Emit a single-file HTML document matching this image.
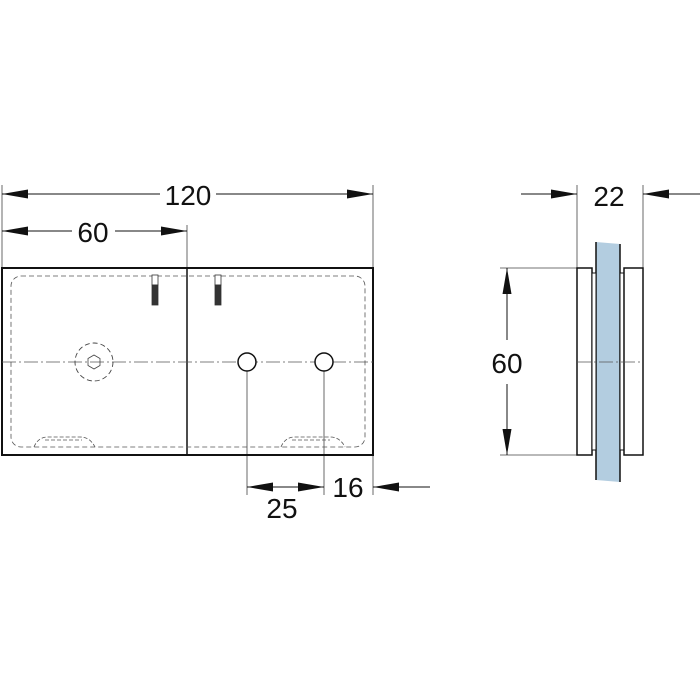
<!DOCTYPE html>
<html><head><style>body{margin:0;background:#fff}svg{display:block}</style></head><body>
<svg width="700" height="700" viewBox="0 0 700 700" xmlns="http://www.w3.org/2000/svg">
<defs>
<marker id="a" viewBox="0 0 26 9" refX="26" refY="4.5" markerWidth="26" markerHeight="9" markerUnits="userSpaceOnUse" orient="auto-start-reverse"><path d="M0,0L26,4.5L0,9z" fill="#111"/></marker>
</defs>
<g stroke="#444" stroke-width="0.8" fill="none">
<line x1="2" y1="185" x2="2" y2="268"/><line x1="373" y1="185" x2="373" y2="268"/><line x1="187" y1="225" x2="187" y2="268"/>
<line x1="247" y1="362" x2="247" y2="495"/><line x1="324" y1="362" x2="324" y2="495"/><line x1="373" y1="455" x2="373" y2="495"/>
<line x1="577" y1="185" x2="577" y2="268"/><line x1="643" y1="185" x2="643" y2="268"/>
<line x1="500" y1="268" x2="577" y2="268"/><line x1="500" y1="455" x2="577" y2="455"/>
</g>
<g stroke="#111" stroke-width="1" fill="none">
<line x1="2" y1="194" x2="160" y2="194" marker-start="url(#a)"/><line x1="216" y1="194" x2="373" y2="194" marker-end="url(#a)"/>
<line x1="2" y1="231" x2="72" y2="231" marker-start="url(#a)"/><line x1="115" y1="231" x2="187" y2="231" marker-end="url(#a)"/>
<line x1="247" y1="487" x2="324" y2="487" marker-start="url(#a)" marker-end="url(#a)"/>
<line x1="430" y1="487" x2="373" y2="487" marker-end="url(#a)"/>
<line x1="521" y1="194" x2="577" y2="194" marker-end="url(#a)"/><line x1="700" y1="194" x2="643" y2="194" marker-end="url(#a)"/>
<line x1="507" y1="268" x2="507" y2="340" marker-start="url(#a)"/><line x1="507" y1="384" x2="507" y2="455" marker-end="url(#a)"/>
</g>
<g font-family="Liberation Sans, sans-serif" font-size="28" fill="#111" text-anchor="middle">
<text x="188" y="205">120</text><text x="93" y="242">60</text><text x="282" y="518">25</text><text x="348" y="497">16</text>
<text x="609" y="206">22</text><text x="507" y="373">60</text>
</g>
<rect x="2" y="268" width="371" height="187" fill="none" stroke="#111" stroke-width="2"/>
<line x1="187" y1="268" x2="187" y2="455" stroke="#111" stroke-width="1.5"/>
<rect x="11" y="276" width="354" height="171" rx="10" fill="none" stroke="#555" stroke-width="0.8" stroke-dasharray="5,3"/>
<line x1="2" y1="362" x2="373" y2="362" stroke="#555" stroke-width="0.8" stroke-dasharray="14,3,2,3"/>
<circle cx="94" cy="362" r="19" fill="none" stroke="#444" stroke-width="0.9" stroke-dasharray="5,3"/>
<polygon points="94,355 100,358.5 100,365.5 94,369 88,365.5 88,358.5" fill="none" stroke="#444" stroke-width="0.8"/>
<circle cx="247" cy="362" r="9" fill="#fff" stroke="#111" stroke-width="1.5"/>
<circle cx="324" cy="362" r="9" fill="#fff" stroke="#111" stroke-width="1.5"/>
<g stroke="#333" stroke-width="0.8">
<rect x="152" y="275" width="6" height="10" fill="#fff"/><rect x="152" y="285" width="6" height="20" fill="#333"/>
<rect x="215" y="275" width="6" height="10" fill="#fff"/><rect x="215" y="285" width="6" height="20" fill="#333"/>
</g>
<g fill="none" stroke="#555" stroke-width="0.8" stroke-dasharray="4,2">
<path d="M34,447 Q38,437 48,437 L80,437 Q90,437 95,447"/><line x1="45" y1="440" x2="82" y2="440"/>
<path d="M281,447 Q285,437 295,437 L330,437 Q340,437 345,447"/><line x1="292" y1="440" x2="330" y2="440"/>
</g>
<path d="M596,242 L620,244 L620,482 L596,480 Z" fill="#b3cde0"/>
<line x1="596" y1="242" x2="596" y2="480" stroke="#111" stroke-width="1.5"/>
<line x1="620" y1="244" x2="620" y2="482" stroke="#111" stroke-width="1.5"/>
<rect x="577" y="268" width="15" height="187" fill="#fff" stroke="#111" stroke-width="1.5"/>
<rect x="592" y="273" width="4" height="177" fill="#fff" stroke="#111" stroke-width="1"/>
<rect x="620" y="273" width="4" height="177" fill="#fff" stroke="#111" stroke-width="1"/>
<rect x="624" y="268" width="19" height="187" fill="#fff" stroke="#111" stroke-width="1.5"/>
<line x1="577" y1="362" x2="643" y2="362" stroke="#555" stroke-width="0.8" stroke-dasharray="14,3,2,3"/>
</svg>
</body></html>
